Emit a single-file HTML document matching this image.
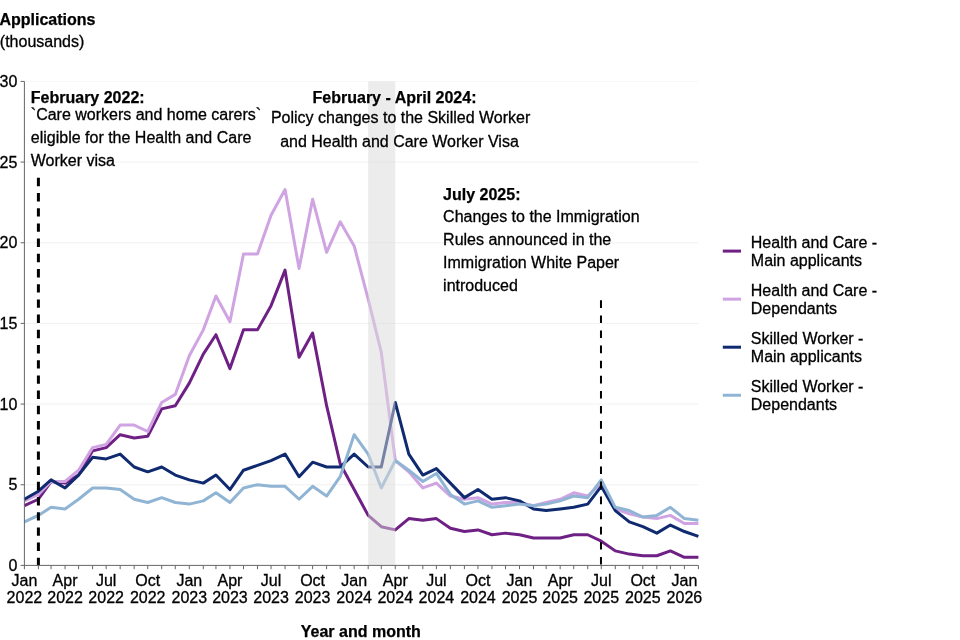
<!DOCTYPE html>
<html lang="en"><head><meta charset="utf-8"><title>Applications (thousands) by year and month</title>
<style>
html,body{margin:0;padding:0;background:#fff;}
body{width:960px;height:640px;overflow:hidden;}
svg{display:block;font-family:"Liberation Sans",Arial,Helvetica,sans-serif;font-size:16px;fill:#000;}
text{stroke:#000;stroke-width:0.3px;}
.b{stroke-width:0.25px;}
.b{font-weight:bold;}
</style></head><body>
<svg width="960" height="640" viewBox="0 0 960 640">
<rect width="960" height="640" fill="#fff"/>
<line x1="24.4" x2="698.4" y1="484.74" y2="484.74" stroke="#f1f1f1" stroke-width="1"/>
<line x1="24.4" x2="698.4" y1="404.07" y2="404.07" stroke="#f1f1f1" stroke-width="1"/>
<line x1="24.4" x2="698.4" y1="323.40" y2="323.40" stroke="#f1f1f1" stroke-width="1"/>
<line x1="24.4" x2="698.4" y1="242.74" y2="242.74" stroke="#f1f1f1" stroke-width="1"/>
<line x1="24.4" x2="698.4" y1="162.07" y2="162.07" stroke="#f1f1f1" stroke-width="1"/>
<line x1="24.4" x2="698.4" y1="81.41" y2="81.41" stroke="#f8f8f8" stroke-width="1"/>
<path d="M24.40,505.71 L38.40,499.25 L51.05,481.51 L65.06,483.12 L78.61,475.06 L92.61,450.86 L106.17,447.63 L120.17,434.72 L134.17,437.95 L147.73,436.34 L161.73,408.91 L175.28,405.68 L189.29,383.10 L203.29,354.06 L215.94,334.70 L229.94,368.58 L243.50,329.86 L257.50,329.86 L271.05,305.66 L285.06,270.17 L299.06,357.28 L312.61,333.08 L326.62,405.68 L340.17,463.76 L354.17,489.57 L368.18,515.39 L381.28,526.68 L395.28,529.91 L408.83,518.61 L422.84,520.23 L436.39,518.61 L450.39,528.29 L464.40,531.52 L477.95,529.91 L491.95,534.75 L505.51,533.13 L519.51,534.75 L533.51,537.97 L546.16,537.97 L560.17,537.97 L573.72,534.75 L587.72,534.75 L601.28,541.20 L615.28,550.88 L629.28,554.11 L642.84,555.72 L656.84,555.72 L670.39,550.88 L684.40,557.33 L698.40,557.33" fill="none" stroke="#6E2085" stroke-width="3" stroke-linejoin="round" stroke-linecap="butt"/>
<path d="M24.40,500.87 L38.40,494.41 L51.05,481.51 L65.06,481.51 L78.61,470.22 L92.61,447.63 L106.17,444.40 L120.17,425.04 L134.17,425.04 L147.73,431.50 L161.73,402.46 L175.28,394.39 L189.29,355.67 L203.29,329.86 L215.94,295.98 L229.94,321.79 L243.50,254.03 L257.50,254.03 L271.05,215.31 L285.06,189.50 L299.06,268.55 L312.61,199.18 L326.62,252.42 L340.17,221.77 L354.17,245.97 L368.18,299.21 L381.28,352.44 L395.28,460.54 L408.83,471.83 L422.84,487.96 L436.39,483.12 L450.39,496.03 L464.40,499.25 L477.95,497.64 L491.95,504.09 L505.51,502.48 L519.51,502.48 L533.51,505.71 L546.16,502.48 L560.17,499.25 L573.72,492.80 L587.72,496.03 L601.28,483.12 L615.28,508.93 L629.28,513.77 L642.84,517.00 L656.84,518.61 L670.39,515.39 L684.40,523.45 L698.40,523.45" fill="none" stroke="#D0A3E2" stroke-width="3" stroke-linejoin="round" stroke-linecap="butt"/>
<path d="M24.40,499.25 L38.40,491.19 L51.05,479.90 L65.06,487.96 L78.61,475.06 L92.61,457.31 L106.17,458.92 L120.17,454.08 L134.17,466.99 L147.73,471.83 L161.73,466.99 L175.28,475.06 L189.29,479.90 L203.29,483.12 L215.94,475.06 L229.94,489.57 L243.50,470.22 L257.50,465.38 L271.05,460.54 L285.06,454.08 L299.06,476.67 L312.61,462.15 L326.62,466.99 L340.17,466.99 L354.17,454.08 L368.18,466.99 L381.28,466.99 L395.28,402.46 L408.83,454.08 L422.84,475.06 L436.39,468.60 L450.39,483.12 L464.40,497.64 L477.95,489.57 L491.95,499.25 L505.51,497.64 L519.51,500.87 L533.51,508.93 L546.16,510.55 L560.17,508.93 L573.72,507.32 L587.72,504.09 L601.28,486.35 L615.28,510.55 L629.28,521.84 L642.84,526.68 L656.84,533.13 L670.39,525.07 L684.40,531.52 L698.40,536.36" fill="none" stroke="#102A70" stroke-width="3" stroke-linejoin="round" stroke-linecap="butt"/>
<path d="M24.40,521.84 L38.40,515.39 L51.05,507.32 L65.06,508.93 L78.61,499.25 L92.61,487.96 L106.17,487.96 L120.17,489.57 L134.17,499.25 L147.73,502.48 L161.73,497.64 L175.28,502.48 L189.29,504.09 L203.29,500.87 L215.94,492.80 L229.94,502.48 L243.50,487.96 L257.50,484.74 L271.05,486.35 L285.06,486.35 L299.06,499.25 L312.61,486.35 L326.62,496.03 L340.17,476.67 L354.17,434.72 L368.18,454.08 L381.28,487.96 L395.28,460.54 L408.83,470.22 L422.84,481.51 L436.39,473.44 L450.39,494.41 L464.40,504.09 L477.95,500.87 L491.95,507.32 L505.51,505.71 L519.51,504.09 L533.51,505.71 L546.16,504.09 L560.17,500.87 L573.72,496.03 L587.72,497.64 L601.28,479.90 L615.28,507.32 L629.28,510.55 L642.84,517.00 L656.84,515.39 L670.39,507.32 L684.40,518.61 L698.40,520.23" fill="none" stroke="#90B4D4" stroke-width="3" stroke-linejoin="round" stroke-linecap="butt"/>
<rect x="368.18" y="81.41" width="27.10" height="483.99" fill="#d9d9d9" fill-opacity="0.5"/>
<line x1="38.40" x2="38.40" y1="177.8" y2="565.4" stroke="#000" stroke-width="3" stroke-dasharray="8.4 6.8"/>
<line x1="600.98" x2="600.98" y1="300.3" y2="565.4" stroke="#000" stroke-width="2" stroke-dasharray="7.6 7.5"/>
<line x1="24.4" x2="24.4" y1="81.41" y2="565.9" stroke="#666666" stroke-width="1"/>
<line x1="23.9" x2="698.4" y1="565.4" y2="565.4" stroke="#666666" stroke-width="1"/>
<line x1="20.599999999999998" x2="24.4" y1="565.40" y2="565.40" stroke="#666666" stroke-width="1"/>
<text x="17.3" y="571.00" text-anchor="end">0</text>
<line x1="20.599999999999998" x2="24.4" y1="484.74" y2="484.74" stroke="#666666" stroke-width="1"/>
<text x="17.3" y="490.34" text-anchor="end">5</text>
<line x1="20.599999999999998" x2="24.4" y1="404.07" y2="404.07" stroke="#666666" stroke-width="1"/>
<text x="17.3" y="409.67" text-anchor="end">10</text>
<line x1="20.599999999999998" x2="24.4" y1="323.40" y2="323.40" stroke="#666666" stroke-width="1"/>
<text x="17.3" y="329.00" text-anchor="end">15</text>
<line x1="20.599999999999998" x2="24.4" y1="242.74" y2="242.74" stroke="#666666" stroke-width="1"/>
<text x="17.3" y="248.34" text-anchor="end">20</text>
<line x1="20.599999999999998" x2="24.4" y1="162.07" y2="162.07" stroke="#666666" stroke-width="1"/>
<text x="17.3" y="167.67" text-anchor="end">25</text>
<line x1="20.599999999999998" x2="24.4" y1="81.41" y2="81.41" stroke="#666666" stroke-width="1"/>
<text x="17.3" y="87.01" text-anchor="end">30</text>
<line x1="24.40" x2="24.40" y1="565.4" y2="569.1999999999999" stroke="#666666" stroke-width="1"/>
<text x="24.40" y="586.3" text-anchor="middle">Jan</text>
<text x="24.40" y="603.4" text-anchor="middle">2022</text>
<line x1="38.40" x2="38.40" y1="565.4" y2="569.1999999999999" stroke="#666666" stroke-width="1"/>
<line x1="51.05" x2="51.05" y1="565.4" y2="569.1999999999999" stroke="#666666" stroke-width="1"/>
<line x1="65.06" x2="65.06" y1="565.4" y2="569.1999999999999" stroke="#666666" stroke-width="1"/>
<text x="65.06" y="586.3" text-anchor="middle">Apr</text>
<text x="65.06" y="603.4" text-anchor="middle">2022</text>
<line x1="78.61" x2="78.61" y1="565.4" y2="569.1999999999999" stroke="#666666" stroke-width="1"/>
<line x1="92.61" x2="92.61" y1="565.4" y2="569.1999999999999" stroke="#666666" stroke-width="1"/>
<line x1="106.17" x2="106.17" y1="565.4" y2="569.1999999999999" stroke="#666666" stroke-width="1"/>
<text x="106.17" y="586.3" text-anchor="middle">Jul</text>
<text x="106.17" y="603.4" text-anchor="middle">2022</text>
<line x1="120.17" x2="120.17" y1="565.4" y2="569.1999999999999" stroke="#666666" stroke-width="1"/>
<line x1="134.17" x2="134.17" y1="565.4" y2="569.1999999999999" stroke="#666666" stroke-width="1"/>
<line x1="147.73" x2="147.73" y1="565.4" y2="569.1999999999999" stroke="#666666" stroke-width="1"/>
<text x="147.73" y="586.3" text-anchor="middle">Oct</text>
<text x="147.73" y="603.4" text-anchor="middle">2022</text>
<line x1="161.73" x2="161.73" y1="565.4" y2="569.1999999999999" stroke="#666666" stroke-width="1"/>
<line x1="175.28" x2="175.28" y1="565.4" y2="569.1999999999999" stroke="#666666" stroke-width="1"/>
<line x1="189.29" x2="189.29" y1="565.4" y2="569.1999999999999" stroke="#666666" stroke-width="1"/>
<text x="189.29" y="586.3" text-anchor="middle">Jan</text>
<text x="189.29" y="603.4" text-anchor="middle">2023</text>
<line x1="203.29" x2="203.29" y1="565.4" y2="569.1999999999999" stroke="#666666" stroke-width="1"/>
<line x1="215.94" x2="215.94" y1="565.4" y2="569.1999999999999" stroke="#666666" stroke-width="1"/>
<line x1="229.94" x2="229.94" y1="565.4" y2="569.1999999999999" stroke="#666666" stroke-width="1"/>
<text x="229.94" y="586.3" text-anchor="middle">Apr</text>
<text x="229.94" y="603.4" text-anchor="middle">2023</text>
<line x1="243.50" x2="243.50" y1="565.4" y2="569.1999999999999" stroke="#666666" stroke-width="1"/>
<line x1="257.50" x2="257.50" y1="565.4" y2="569.1999999999999" stroke="#666666" stroke-width="1"/>
<line x1="271.05" x2="271.05" y1="565.4" y2="569.1999999999999" stroke="#666666" stroke-width="1"/>
<text x="271.05" y="586.3" text-anchor="middle">Jul</text>
<text x="271.05" y="603.4" text-anchor="middle">2023</text>
<line x1="285.06" x2="285.06" y1="565.4" y2="569.1999999999999" stroke="#666666" stroke-width="1"/>
<line x1="299.06" x2="299.06" y1="565.4" y2="569.1999999999999" stroke="#666666" stroke-width="1"/>
<line x1="312.61" x2="312.61" y1="565.4" y2="569.1999999999999" stroke="#666666" stroke-width="1"/>
<text x="312.61" y="586.3" text-anchor="middle">Oct</text>
<text x="312.61" y="603.4" text-anchor="middle">2023</text>
<line x1="326.62" x2="326.62" y1="565.4" y2="569.1999999999999" stroke="#666666" stroke-width="1"/>
<line x1="340.17" x2="340.17" y1="565.4" y2="569.1999999999999" stroke="#666666" stroke-width="1"/>
<line x1="354.17" x2="354.17" y1="565.4" y2="569.1999999999999" stroke="#666666" stroke-width="1"/>
<text x="354.17" y="586.3" text-anchor="middle">Jan</text>
<text x="354.17" y="603.4" text-anchor="middle">2024</text>
<line x1="368.18" x2="368.18" y1="565.4" y2="569.1999999999999" stroke="#666666" stroke-width="1"/>
<line x1="381.28" x2="381.28" y1="565.4" y2="569.1999999999999" stroke="#666666" stroke-width="1"/>
<line x1="395.28" x2="395.28" y1="565.4" y2="569.1999999999999" stroke="#666666" stroke-width="1"/>
<text x="395.28" y="586.3" text-anchor="middle">Apr</text>
<text x="395.28" y="603.4" text-anchor="middle">2024</text>
<line x1="408.83" x2="408.83" y1="565.4" y2="569.1999999999999" stroke="#666666" stroke-width="1"/>
<line x1="422.84" x2="422.84" y1="565.4" y2="569.1999999999999" stroke="#666666" stroke-width="1"/>
<line x1="436.39" x2="436.39" y1="565.4" y2="569.1999999999999" stroke="#666666" stroke-width="1"/>
<text x="436.39" y="586.3" text-anchor="middle">Jul</text>
<text x="436.39" y="603.4" text-anchor="middle">2024</text>
<line x1="450.39" x2="450.39" y1="565.4" y2="569.1999999999999" stroke="#666666" stroke-width="1"/>
<line x1="464.40" x2="464.40" y1="565.4" y2="569.1999999999999" stroke="#666666" stroke-width="1"/>
<line x1="477.95" x2="477.95" y1="565.4" y2="569.1999999999999" stroke="#666666" stroke-width="1"/>
<text x="477.95" y="586.3" text-anchor="middle">Oct</text>
<text x="477.95" y="603.4" text-anchor="middle">2024</text>
<line x1="491.95" x2="491.95" y1="565.4" y2="569.1999999999999" stroke="#666666" stroke-width="1"/>
<line x1="505.51" x2="505.51" y1="565.4" y2="569.1999999999999" stroke="#666666" stroke-width="1"/>
<line x1="519.51" x2="519.51" y1="565.4" y2="569.1999999999999" stroke="#666666" stroke-width="1"/>
<text x="519.51" y="586.3" text-anchor="middle">Jan</text>
<text x="519.51" y="603.4" text-anchor="middle">2025</text>
<line x1="533.51" x2="533.51" y1="565.4" y2="569.1999999999999" stroke="#666666" stroke-width="1"/>
<line x1="546.16" x2="546.16" y1="565.4" y2="569.1999999999999" stroke="#666666" stroke-width="1"/>
<line x1="560.17" x2="560.17" y1="565.4" y2="569.1999999999999" stroke="#666666" stroke-width="1"/>
<text x="560.17" y="586.3" text-anchor="middle">Apr</text>
<text x="560.17" y="603.4" text-anchor="middle">2025</text>
<line x1="573.72" x2="573.72" y1="565.4" y2="569.1999999999999" stroke="#666666" stroke-width="1"/>
<line x1="587.72" x2="587.72" y1="565.4" y2="569.1999999999999" stroke="#666666" stroke-width="1"/>
<line x1="601.28" x2="601.28" y1="565.4" y2="569.1999999999999" stroke="#666666" stroke-width="1"/>
<text x="601.28" y="586.3" text-anchor="middle">Jul</text>
<text x="601.28" y="603.4" text-anchor="middle">2025</text>
<line x1="615.28" x2="615.28" y1="565.4" y2="569.1999999999999" stroke="#666666" stroke-width="1"/>
<line x1="629.28" x2="629.28" y1="565.4" y2="569.1999999999999" stroke="#666666" stroke-width="1"/>
<line x1="642.84" x2="642.84" y1="565.4" y2="569.1999999999999" stroke="#666666" stroke-width="1"/>
<text x="642.84" y="586.3" text-anchor="middle">Oct</text>
<text x="642.84" y="603.4" text-anchor="middle">2025</text>
<line x1="656.84" x2="656.84" y1="565.4" y2="569.1999999999999" stroke="#666666" stroke-width="1"/>
<line x1="670.39" x2="670.39" y1="565.4" y2="569.1999999999999" stroke="#666666" stroke-width="1"/>
<line x1="684.40" x2="684.40" y1="565.4" y2="569.1999999999999" stroke="#666666" stroke-width="1"/>
<text x="684.40" y="586.3" text-anchor="middle">Jan</text>
<text x="684.40" y="603.4" text-anchor="middle">2026</text>
<line x1="698.40" x2="698.40" y1="565.4" y2="569.1999999999999" stroke="#666666" stroke-width="1"/>
<text class="b" x="-0.6" y="24.8">Applications</text>
<text x="-0.2" y="47">(thousands)</text>
<text class="b" x="360.8" y="636.9" text-anchor="middle">Year and month</text>
<text class="b" x="30.8" y="102.5">February 2022:</text>
<text x="30.8" y="119.5">`Care workers and home carers`</text>
<text x="30.8" y="142.8">eligible for the Health and Care</text>
<text x="30.8" y="165.6">Worker visa</text>
<text class="b" x="394.5" y="102.5" text-anchor="middle">February - April 2024:</text>
<text x="400.6" y="122.8" text-anchor="middle">Policy changes to the Skilled Worker</text>
<text x="399.5" y="147.2" text-anchor="middle">and Health and Care Worker Visa</text>
<text class="b" x="443.1" y="199.5">July 2025:</text>
<text x="443.1" y="221.7">Changes to the Immigration</text>
<text x="443.1" y="244.6">Rules announced in the</text>
<text x="443.1" y="267.5">Immigration White Paper</text>
<text x="443.1" y="290.8">introduced</text>
<line x1="722.8" x2="741" y1="251.10" y2="251.10" stroke="#6E2085" stroke-width="3"/>
<text x="750.8" y="247.90">Health and Care -</text>
<text x="750.8" y="266.00">Main applicants</text>
<line x1="722.8" x2="741" y1="299.15" y2="299.15" stroke="#D0A3E2" stroke-width="3"/>
<text x="750.8" y="295.90">Health and Care -</text>
<text x="750.8" y="314.00">Dependants</text>
<line x1="722.8" x2="741" y1="347.20" y2="347.20" stroke="#102A70" stroke-width="3"/>
<text x="750.8" y="343.90">Skilled Worker -</text>
<text x="750.8" y="362.00">Main applicants</text>
<line x1="722.8" x2="741" y1="395.25" y2="395.25" stroke="#90B4D4" stroke-width="3"/>
<text x="750.8" y="391.90">Skilled Worker -</text>
<text x="750.8" y="410.00">Dependants</text>
</svg></body></html>
